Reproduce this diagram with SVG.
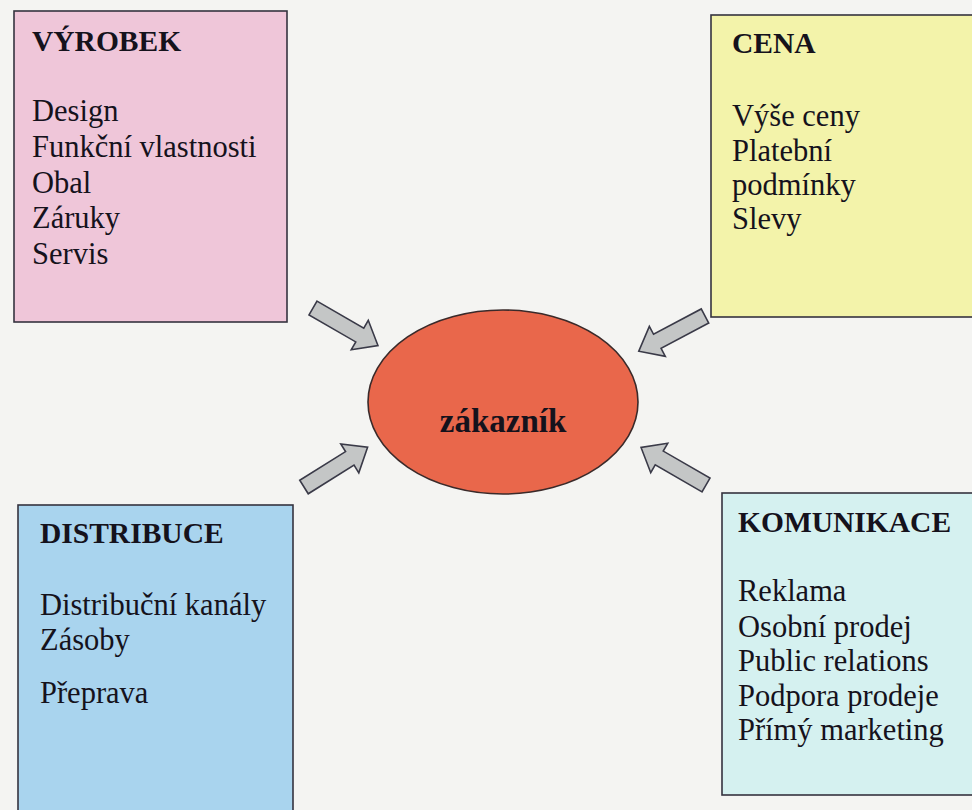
<svg xmlns="http://www.w3.org/2000/svg" width="972" height="810" viewBox="0 0 972 810">
<style>
.box{stroke:#35333f;stroke-width:1.6}
.t{font-family:"Liberation Serif","Times New Roman",serif;fill:#15121c}
.h{font-size:29.5px;font-weight:bold}
.i{font-size:30.5px}
.arr{fill:#c4c6c6;stroke:#3a3a48;stroke-width:1.6;stroke-linejoin:miter}
</style>
<defs>
<path id="blk" d="M0,-8 L54,-8 L54,-17 L75,0 L54,17 L54,8 L0,8 Z"/>
</defs>
<rect width="972" height="810" fill="#f4f4f2"/>
<g id="vyrobek">
<rect class="box" x="14" y="11" width="273" height="311" fill="#efc6d9"/>
<text class="t h" x="32" y="51">VÝROBEK</text>
<text class="t i" x="32" y="121">Design</text>
<text class="t i" x="32" y="157">Funkční vlastnosti</text>
<text class="t i" x="32" y="193">Obal</text>
<text class="t i" x="32" y="228">Záruky</text>
<text class="t i" x="32" y="264">Servis</text>
</g>
<g id="cena">
<rect class="box" x="711" y="15" width="270" height="302" fill="#f3f3aa"/>
<text class="t h" x="732" y="53">CENA</text>
<text class="t i" x="732" y="126">Výše ceny</text>
<text class="t i" x="732" y="161">Platební</text>
<text class="t i" x="732" y="195">podmínky</text>
<text class="t i" x="732" y="229">Slevy</text>
</g>
<g id="distribuce">
<rect class="box" x="18" y="505" width="275" height="320" fill="#a9d4ee"/>
<text class="t h" x="40" y="543">DISTRIBUCE</text>
<text class="t i" x="40" y="615">Distribuční kanály</text>
<text class="t i" x="40" y="650">Zásoby</text>
<text class="t i" x="40" y="703">Přeprava</text>
</g>
<g id="komunikace">
<rect class="box" x="722" y="493" width="260" height="302" fill="#d5f1f0"/>
<text class="t h" x="738" y="532">KOMUNIKACE</text>
<text class="t i" x="738" y="601">Reklama</text>
<text class="t i" x="738" y="637">Osobní prodej</text>
<text class="t i" x="738" y="671">Public relations</text>
<text class="t i" x="738" y="706">Podpora prodeje</text>
<text class="t i" x="738" y="740">Přímý marketing</text>
</g>
<g id="zakaznik">
<ellipse cx="503" cy="402" rx="135" ry="92" fill="#e9674b" stroke="#3a2a2a" stroke-width="1.6"/>
<text class="t" x="503" y="432" text-anchor="middle" font-size="33" font-weight="bold">zákazník</text>
</g>
<g id="connectors">
<use href="#blk" class="arr" transform="translate(313,308) rotate(30)"/>
<use href="#blk" class="arr" transform="translate(705,316) rotate(152)"/>
<use href="#blk" class="arr" transform="translate(304,487) rotate(-32)"/>
<use href="#blk" class="arr" transform="translate(706,485) rotate(210)"/>
</g>
</svg>
